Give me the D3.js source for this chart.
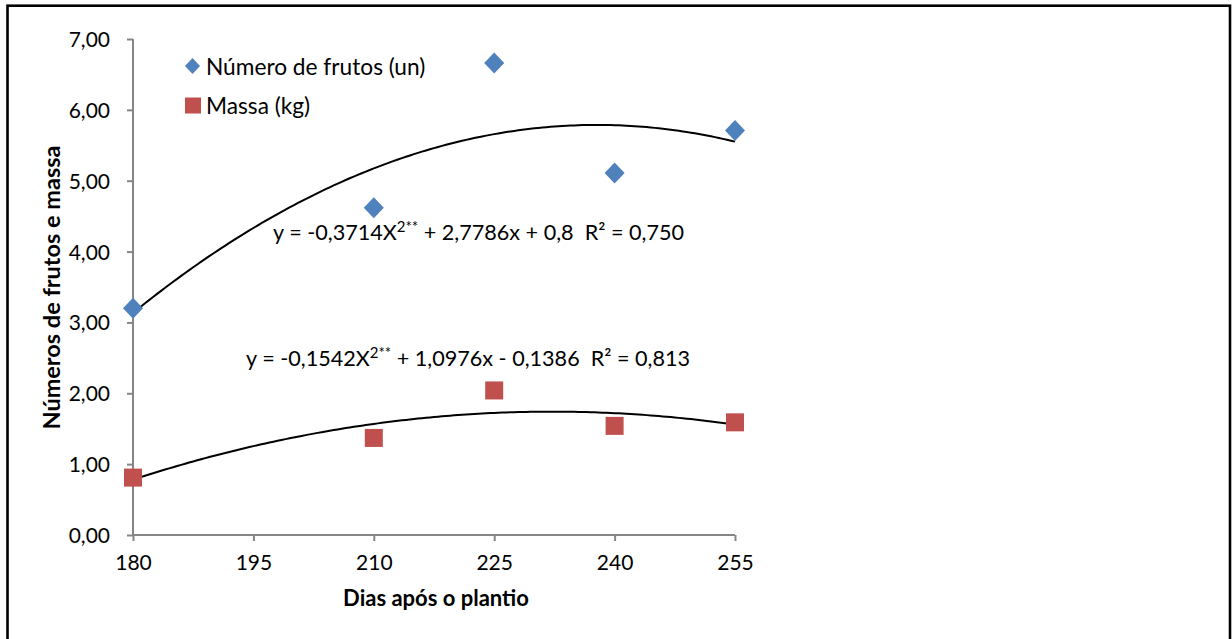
<!DOCTYPE html>
<html>
<head>
<meta charset="utf-8">
<script src="https://cdn.jsdelivr.net/npm/d3@7"></script>
<style>
  html, body { margin: 0; padding: 0; background: #fff; }
  svg { display: block; }
  text { font-family: Lato, "Open Sans", sans-serif; fill: #000; white-space: pre; }
</style>
</head>
<body>
<svg id="chart" width="1232" height="639"></svg>
<script>
// ---- data ----
const days = [180, 210, 225, 240, 255];
const numeroFrutos = [3.20, 4.62, 6.66, 5.11, 5.71];
const massa = [0.81, 1.37, 2.04, 1.54, 1.59];
const xTicks = [180, 195, 210, 225, 240, 255];
const yTicks = [0, 1, 2, 3, 4, 5, 6, 7];
const seriesNames = ["Número de frutos (un)", "Massa (kg)"];
const eqNumero = ["y = -0,3714X", "2**", " + 2,7786x + 0,8  R² = 0,750"];
const eqMassa = ["y = -0,1542X", "2**", " + 1,0976x - 0,1386  R² = 0,813"];

const svg = d3.select("#chart");

// outer frame
svg.append("rect").attr("x", 7.5).attr("y", 5.7).attr("width", 1222.5).attr("height", 640)
  .attr("fill", "none").attr("stroke", "#000").attr("stroke-width", 2.6);

const x = d3.scaleLinear().domain([180, 255]).range([133, 735]);
const y = d3.scaleLinear().domain([0, 7]).range([535, 39]);

const axisColor = "#868686";
const fmt = d => d3.format(".2f")(d).replace(".", ",");

// y axis
const yAxis = svg.append("g").attr("transform", "translate(133,0)")
  .call(d3.axisLeft(y).tickValues(yTicks).tickSize(6).tickPadding(17).tickFormat(fmt));
// x axis
const xAxis = svg.append("g").attr("transform", "translate(0,535)")
  .call(d3.axisBottom(x).tickValues(xTicks).tickSize(6).tickPadding(14).tickFormat(d3.format("d")));
[yAxis, xAxis].forEach(g => {
  g.select(".domain").attr("stroke", axisColor).attr("stroke-width", 2);
  g.selectAll(".tick line").attr("stroke", axisColor).attr("stroke-width", 2);
  g.selectAll("text").attr("font-size", 21).attr("font-family", "Lato").attr("fill", "#000");
});
yAxis.selectAll("text").attr("dy", "0.36em");
xAxis.select(".domain").attr("d", `M133,0H735`);
yAxis.select(".domain").attr("d", `M0,39V535`);

// least-squares quadratic fit (trendline)
function quadFit(xs, ys) {
  let s = [0,0,0,0,0], t = [0,0,0];
  xs.forEach((xv, i) => {
    for (let k = 0; k < 5; k++) s[k] += Math.pow(xv, k);
    for (let k = 0; k < 3; k++) t[k] += Math.pow(xv, k) * ys[i];
  });
  const A = [[s[0], s[1], s[2], t[0]], [s[1], s[2], s[3], t[1]], [s[2], s[3], s[4], t[2]]];
  for (let i = 0; i < 3; i++) {
    let p = i;
    for (let r = i + 1; r < 3; r++) if (Math.abs(A[r][i]) > Math.abs(A[p][i])) p = r;
    [A[i], A[p]] = [A[p], A[i]];
    for (let r = 0; r < 3; r++) if (r !== i) {
      const f = A[r][i] / A[i][i];
      for (let c = i; c < 4; c++) A[r][c] -= f * A[i][c];
    }
  }
  const c = [A[0][3] / A[0][0], A[1][3] / A[1][1], A[2][3] / A[2][2]];
  return xv => c[0] + c[1] * xv + c[2] * xv * xv;
}

const line = d3.line().x(d => x(d[0])).y(d => y(d[1]));
[numeroFrutos, massa].forEach(vals => {
  const f = quadFit(days, vals);
  const pts = d3.range(180, 255.01, 0.5).map(xv => [xv, f(xv)]);
  svg.append("path").attr("d", line(pts)).attr("fill", "none")
    .attr("stroke", "#000").attr("stroke-width", 2);
});

const blue = "#4F81BD", red = "#C0504D";

function diamondPath(cx, cy, w, h) {
  return `M${cx},${cy - h/2}L${cx + w/2},${cy}L${cx},${cy + h/2}L${cx - w/2},${cy}Z`;
}

svg.append("g").selectAll("path").data(days).join("path")
  .attr("d", (d, i) => diamondPath(x(d), y(numeroFrutos[i]), 20, 21))
  .attr("fill", blue);

svg.append("g").selectAll("rect").data(days).join("rect")
  .attr("x", (d) => x(d) - 9).attr("y", (d, i) => y(massa[i]) - 9)
  .attr("width", 18).attr("height", 18).attr("fill", red);

// legend
svg.append("path").attr("d", diamondPath(192.5, 66, 15, 16)).attr("fill", blue);
svg.append("rect").attr("x", 185).attr("y", 97.5).attr("width", 16).attr("height", 16).attr("fill", red);
svg.append("text").attr("x", 206).attr("y", 75).attr("font-size", 22.7).text(seriesNames[0]);
svg.append("text").attr("x", 206).attr("y", 114).attr("font-size", 22.7).text(seriesNames[1]);

// equations
function equation(parts, x0, yb) {
  const t = svg.append("text").attr("x", x0).attr("y", yb).attr("font-size", 21.6);
  t.append("tspan").text(parts[0]);
  t.append("tspan").attr("dy", -8).attr("font-size", 15).text(parts[1]);
  t.append("tspan").attr("dy", 8).text(parts[2]);
}
equation(eqNumero, 273, 240);
equation(eqMassa, 246, 366);

// axis titles
svg.append("text").attr("x", 436).attr("y", 606).attr("text-anchor", "middle")
  .attr("font-size", 22).attr("font-weight", "bold").text("Dias após o plantio");
svg.append("text").attr("transform", "translate(60,287.5) rotate(-90)").attr("text-anchor", "middle")
  .attr("font-size", 23.5).attr("font-weight", "bold").text("Números de frutos e massa");
</script>
</body>
</html>
